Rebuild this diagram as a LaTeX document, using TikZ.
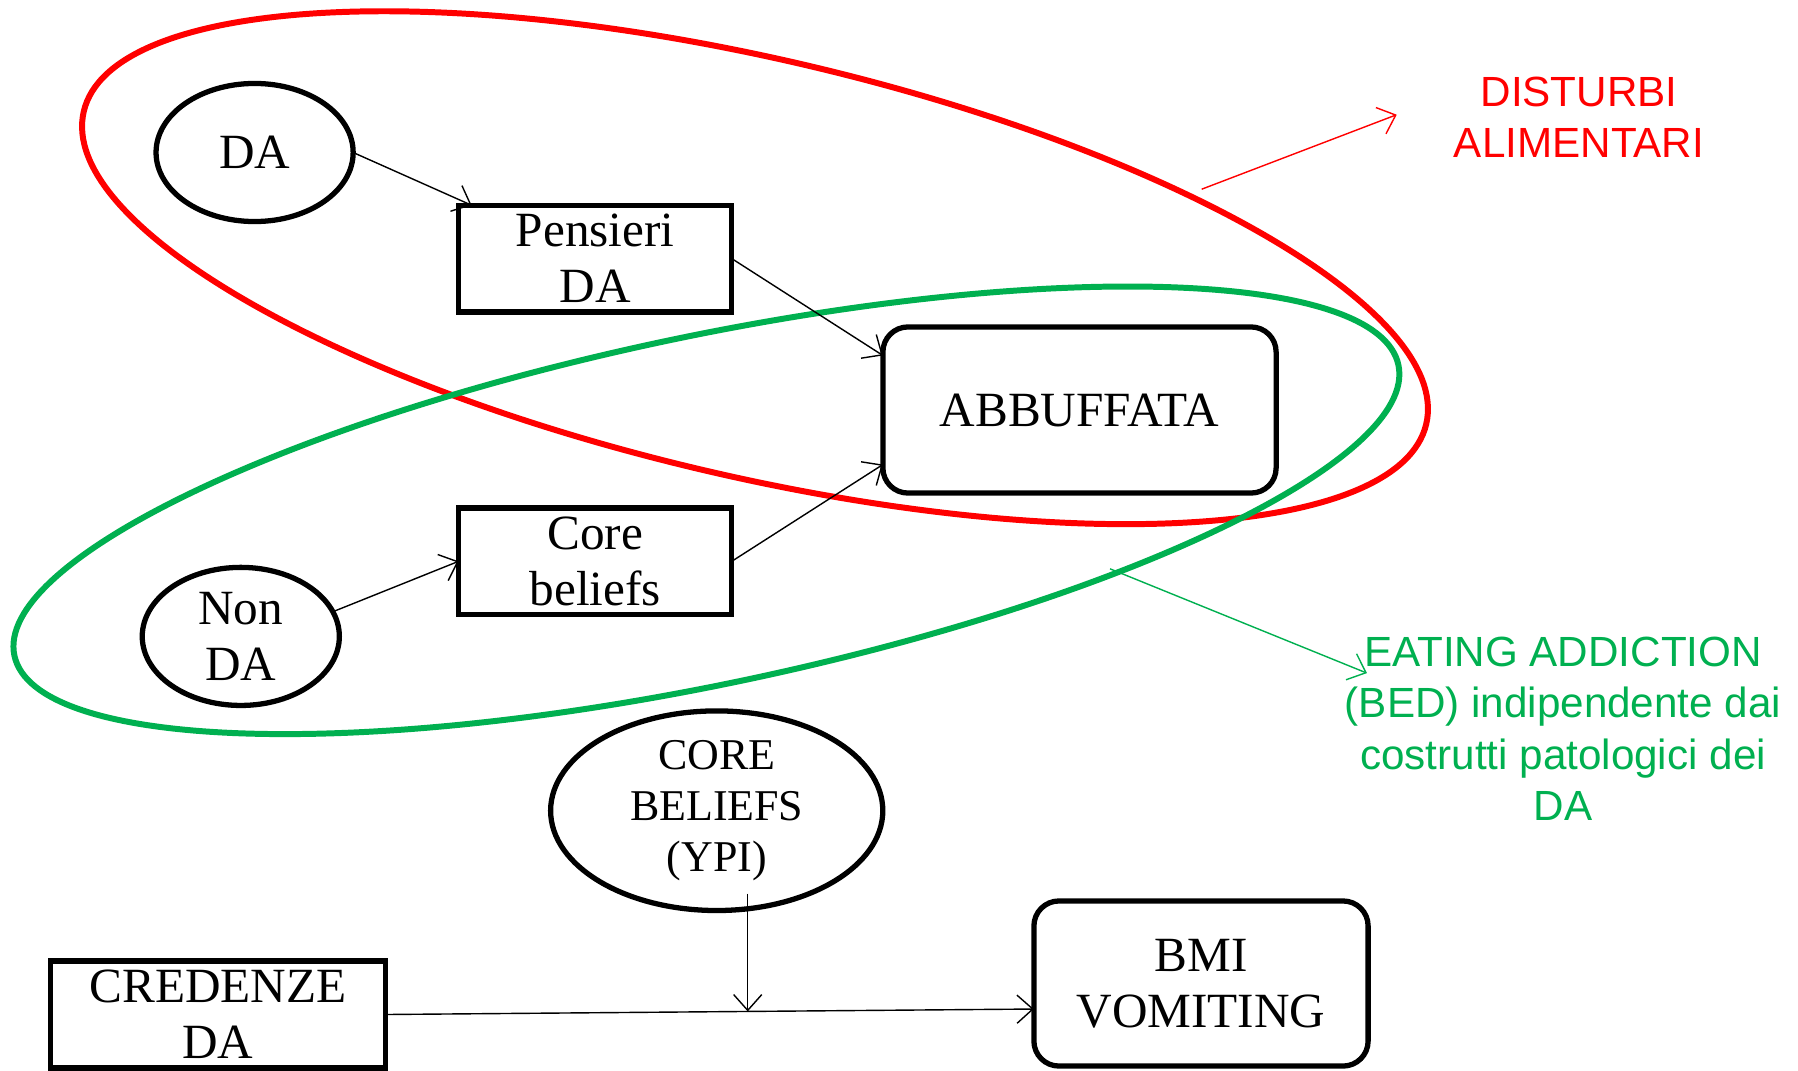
\documentclass[tikz,border=0pt]{standalone}
\usepackage{fontspec}
\setmainfont{Liberation Serif}
\setsansfont{Liberation Sans}
\usetikzlibrary{shapes.geometric,arrows.meta,calc}
\definecolor{dared}{RGB}{255,0,0}
\definecolor{eagreen}{RGB}{0,176,80}

\begin{document}
\begin{tikzpicture}[x=0.01cm,y=-0.01cm,
  every node/.style={inner sep=0pt, outer sep=0pt},
  txt/.style={font=\fontsize{14}{16}\selectfont, align=center},
  oval/.style={ellipse, draw, line width=1.5pt, txt},
  sqbox/.style={rectangle, draw, line width=1.5pt, txt},
  rbox/.style={rectangle, rounded corners=0.25cm, draw, line width=1.5pt, txt},
  link/.style={line width=0.4pt, -{Straight Barb[length=4.5pt,width=8pt]}},
  group/.style={line width=1.7pt},
  note/.style={font=\sffamily\fontsize{12}{14.6}\selectfont, align=center}
]
\useasboundingbox[fill=white] (0,0) rectangle (1798,1070);

% grouping outlines
\draw[group, dared, rotate around={-13.1:(755,267.7)}]
  (755,267.7) ellipse [x radius=6.888cm, y radius=2.087cm];
\draw[group, eagreen, rotate around={11.85:(706.4,510.3)}]
  (706.4,510.3) ellipse [x radius=7.067cm, y radius=1.739cm];

% nodes
\node[oval, minimum width=1.97cm, minimum height=1.38cm] (da) at (254.6,152.5) {DA};
\node[sqbox, minimum width=2.73cm, minimum height=1.066cm] (pens) at (595.2,258.6) {Pensieri\\DA};
\node[rbox, minimum width=3.93cm, minimum height=1.66cm] (abb) at (1079.5,410) {ABBUFFATA};
\node[sqbox, minimum width=2.73cm, minimum height=1.066cm] (core) at (595.2,561.3) {Core\\beliefs};
\node[oval, minimum width=1.97cm, minimum height=1.38cm] (nonda) at (240.8,636.4) {Non\\DA};
\node[oval, minimum width=3.32cm, minimum height=1.83cm,
      font=\fontsize{12.5}{14.6}\selectfont] (ypi) at (716.7,810.7) {CORE\\BELIEFS\\(YPI)};
\node[sqbox, minimum width=3.35cm, minimum height=1.07cm] (cred) at (218,1014.5) {CREDENZE\\DA};
\node[rbox, minimum width=3.34cm, minimum height=1.65cm] (bmi) at (1201,983.5) {BMI\\VOMITING};

% labels of the outlines
\node[note, text=dared] (dist) at (1579,117) {DISTURBI\\ALIMENTARI};
\node[note, text=eagreen] (eat) at (1563,728.7)
  {EATING ADDICTION\\(BED) indipendente dai\\costrutti patologici dei\\DA};

% connectors
\draw[link] (da.east) -- ([xshift=0.13cm]pens.north west);
\draw[link] (pens.east) -- ([yshift=0.545cm]abb.west);
\draw[link] (core.east) -- ([yshift=-0.545cm]abb.west);
\draw[link] (nonda.15) -- (core.west);
\draw[link] (cred.east) -- ([yshift=-0.255cm]bmi.west);
\coordinate (mod) at ($(cred.east)!0.5585!([yshift=-0.255cm]bmi.west)$);
\coordinate (modtop) at ($(ypi.south)+(31,-17)$);
\draw[link] (modtop) -- (modtop |- mod);

% pointers from the outlines to their labels
\coordinate (redfrom) at (1201.7,189.2);
\coordinate (redto) at (1396.7,114.7);
\coordinate (greenfrom) at (1110,568.8);
\coordinate (greento) at (1366.9,673.1);
\draw[link, dared] (redfrom) -- (redto);
\draw[link, eagreen] (greenfrom) -- (greento);
\end{tikzpicture}
\end{document}
